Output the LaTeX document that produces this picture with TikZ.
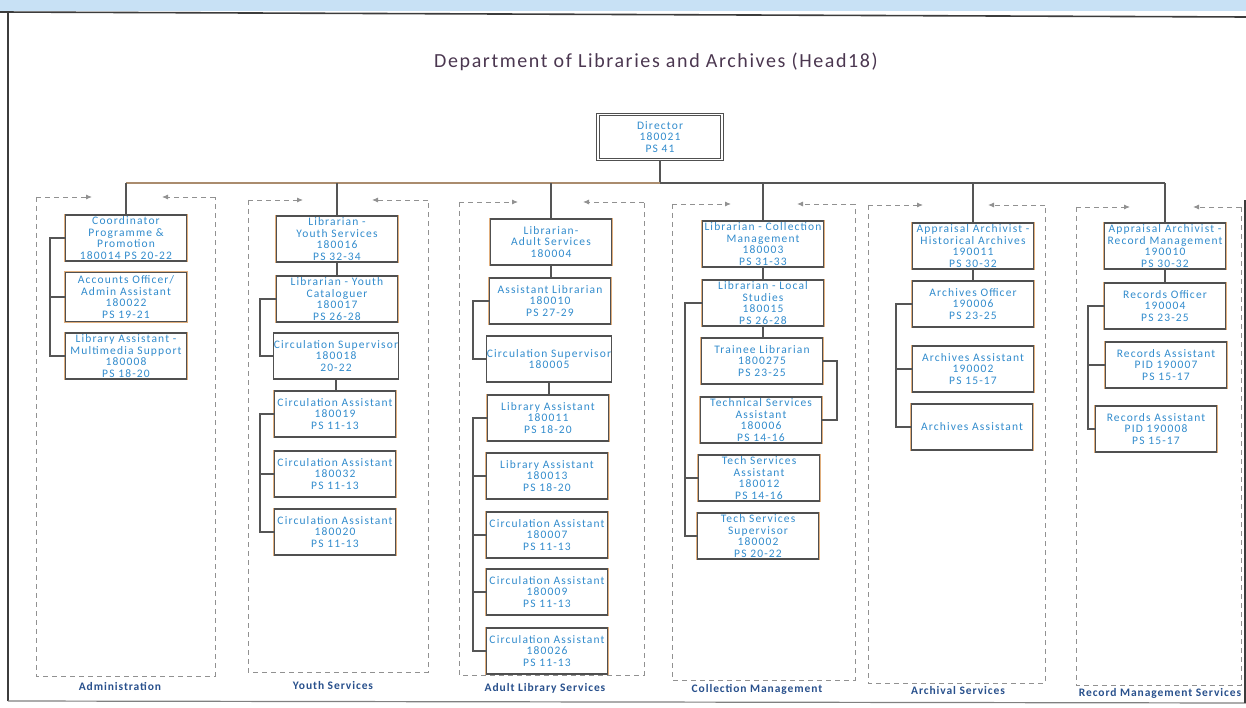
\documentclass[tikz,border=0pt]{standalone}
\usepackage{fontspec}
\setmainfont{Carlito}
\newfontfamily\postFont[LetterSpace=10]{Carlito}
\newfontfamily\titleFont[LetterSpace=8]{Carlito}
\newfontfamily\labelFont[LetterSpace=8]{Carlito}
\usepackage{xcolor}
\definecolor{postBlue}{RGB}{50,140,205}
\definecolor{postEdge}{RGB}{80,80,80}
\definecolor{postTan}{RGB}{225,175,125}
\definecolor{linkGray}{RGB}{85,85,85}
\definecolor{busTan}{RGB}{170,140,110}
\definecolor{deptGray}{RGB}{145,145,145}
\definecolor{titleInk}{RGB}{75,55,80}
\definecolor{labelInk}{RGB}{40,80,140}
\definecolor{bandBlue}{RGB}{200,225,245}
\definecolor{frameInk}{RGB}{60,60,60}
\usepackage{tikz}
\usetikzlibrary{arrows.meta}

\begin{document}
\begin{tikzpicture}[x=1pt, y=-1pt, every node/.style={inner sep=.25ex},
	post/.style={draw=postEdge, line width=1.1pt, preaction={draw=postTan, line width=2.6pt}, fill=white, minimum width=121pt, minimum height=46pt, inner sep=0pt, align=center, text=postBlue, font=\postFont\fontsize{11.5}{11.5}\selectfont},
	link/.style={draw=linkGray, line width=1.4pt},
	dept/.style={draw=deptGray, line width=0.9pt, dash pattern=on 5pt off 4pt},
	deptArrow/.style={dept, -{Latex[length=6pt, width=5pt]}},
	deptLabel/.style={text=labelInk, font=\labelFont\bfseries\fontsize{11.5}{13}\selectfont}]
	\useasboundingbox (0,0) rectangle (1246,708);
	% page frame of the scan
	\fill[bandBlue] (0,0) rectangle (1246,11);
	\draw[frameInk, line width=1.6pt] (0,12) -- (1246,17);
	\draw[frameInk, line width=1.6pt] (8,12) -- (8,701);
	\draw[gray, line width=1.2pt] (8,701) -- (1246,703);
	\draw[frameInk, line width=1.2pt] (1245,200) -- (1245,703);

	\node[text=titleInk, font=\titleFont\fontsize{20}{24}\selectfont] (title) at (656,62) {Department of Libraries and Archives (Head18)};
	\node[post, minimum width=124pt, minimum height=45pt, double=white, double distance=1.2pt] (dir) at (660,137) {Director\\180021\\PS 41};

	% department frames
	\draw[dept] (36,197) -- (36,676) -- (215,676) -- (215,197);
	\draw[deptArrow] (36,197) -- (92,197);
	\draw[deptArrow] (215,197) -- (162,197);
	\draw[dept] (248,200) -- (248,672) -- (428,672) -- (428,200);
	\draw[deptArrow] (248,200) -- (303,200);
	\draw[deptArrow] (428,200) -- (372,200);
	\draw[dept] (459,202) -- (459,675) -- (644,675) -- (644,202);
	\draw[deptArrow] (459,202) -- (518,202);
	\draw[deptArrow] (644,202) -- (583,202);
	\draw[dept] (672,204) -- (672,680) -- (855,680) -- (855,204);
	\draw[deptArrow] (672,204) -- (731,204);
	\draw[deptArrow] (855,204) -- (797,204);
	\draw[dept] (868,205) -- (868,683) -- (1045,683) -- (1045,205);
	\draw[deptArrow] (868,205) -- (923,205);
	\draw[deptArrow] (1045,205) -- (988,205);
	\draw[dept] (1076,207) -- (1076,685) -- (1241,685) -- (1241,207);
	\draw[deptArrow] (1076,207) -- (1130,207);
	\draw[deptArrow] (1241,207) -- (1193,207);

	\node[deptLabel] (admLabel) at (120,686) {Administration};
	\node[deptLabel] (youthLabel) at (333,686) {Youth Services};
	\node[deptLabel] (adultLabel) at (545,688) {Adult Library Services};
	\node[deptLabel] (collLabel) at (757,689) {Collection Management};
	\node[deptLabel] (archLabel) at (958,691) {Archival Services};
	\node[deptLabel] (recLabel) at (1160,693) {Record Management Services};

	% Administration
	\node[post] (A1) at (126,238) {Coordinator\\Programme \&\\Promotion\\180014 PS 20-22};
	\node[post, minimum height=49pt] (A2) at (126,297) {Accounts Officer/\\Admin Assistant\\180022\\PS 19-21};
	\node[post] (A3) at (126,356) {Library Assistant -\\Multimedia Support\\180008\\PS 18-20};
	% Youth Services
	\node[post] (Y1) at (337,239) {Librarian -\\Youth Services\\180016\\PS 32-34};
	\node[post] (Y2) at (337,299) {Librarian - Youth\\Cataloguer\\180017\\PS 26-28};
	\node[post] (Y3) at (336,356) {Circulation Supervisor\\180018\\20-22};
	\node[post] (Y4) at (335,414) {Circulation Assistant\\180019\\PS 11-13};
	\node[post] (Y5) at (335,474) {Circulation Assistant\\180032\\PS 11-13};
	\node[post] (Y6) at (335,532) {Circulation Assistant\\180020\\PS 11-13};
	% Adult Library Services
	\node[post] (D1) at (551,242) {Librarian-\\Adult Services\\180004};
	\node[post] (D2) at (550,301) {Assistant Librarian\\180010\\PS 27-29};
	\node[post] (D3) at (549,359) {Circulation Supervisor\\180005};
	\node[post] (D4) at (548,418) {Library Assistant\\180011\\PS 18-20};
	\node[post] (D5) at (547,476) {Library Assistant\\180013\\PS 18-20};
	\node[post] (D6) at (547,535) {Circulation Assistant\\180007\\PS 11-13};
	\node[post] (D7) at (547,592) {Circulation Assistant\\180009\\PS 11-13};
	\node[post] (D8) at (547,651) {Circulation Assistant\\180026\\PS 11-13};
	% Collection Management
	\node[post] (C1) at (763,244) {Librarian - Collection\\Management\\180003\\PS 31-33};
	\node[post] (C2) at (763,303) {Librarian - Local\\Studies\\180015\\PS 26-28};
	\node[post] (C3) at (762,361) {Trainee Librarian\\1800275\\PS 23-25};
	\node[post] (C4) at (761,420) {Technical Services\\Assistant\\180006\\PS 14-16};
	\node[post] (C5) at (759,478) {Tech Services\\Assistant\\180012\\PS 14-16};
	\node[post] (C6) at (758,536) {Tech Services\\Supervisor\\180002\\PS 20-22};
	% Archival Services
	\node[post] (R1) at (973,246) {Appraisal Archivist -\\Historical Archives\\190011\\PS 30-32};
	\node[post] (R2) at (973,304) {Archives Officer\\190006\\PS 23-25};
	\node[post] (R3) at (973,369) {Archives Assistant\\190002\\PS 15-17};
	\node[post] (R4) at (972,427) {Archives Assistant};
	% Record Management Services
	\node[post] (S1) at (1165,246) {Appraisal Archivist -\\Record Management\\190010\\PS 30-32};
	\node[post] (S2) at (1165,306) {Records Officer\\190004\\PS 23-25};
	\node[post] (S3) at (1166,365) {Records Assistant\\PID 190007\\PS 15-17};
	\node[post] (S4) at (1156,429) {Records Assistant\\PID 190008\\PS 15-17};

	% director to the heads of section
	\coordinate (bus) at (660,183);
	\draw[link] (dir.south) -- (dir.south |- bus);
	\draw[link, draw=busTan, line width=1.1pt] (A1.north |- bus) -- (dir.south |- bus);
	\draw[link] (dir.south |- bus) -- (S1.north |- bus);
	\foreach \head in {A1, Y1, D1, C1, R1, S1}
		\draw[link] (\head.north |- bus) -- (\head.north);

	% straight links
	\draw[link] (Y1.south) -- (Y1.south |- Y2.north);
	\draw[link] (Y3.south) -- (Y3.south |- Y4.north);
	\draw[link] (D1.south) -- (D1.south |- D2.north);
	\draw[link] (D3.south) -- (D3.south |- D4.north);
	\draw[link] (C1.south) -- (C1.south |- C2.north);
	\draw[link] (C2.south) -- (C2.south |- C3.north);
	\draw[link] (R1.south) -- (R1.south |- R2.north);
	\draw[link] (S1.south) -- (S1.south |- S2.north);

	% side brackets
	\coordinate (aSpine) at (50,0);
	\draw[link] (A1.west) -- (aSpine |- A1.west) -- (aSpine |- A3.west) -- (A3.west);
	\draw[link] (aSpine |- A2.west) -- (A2.west);
	\coordinate (ySpine) at (260,0);
	\draw[link] (Y2.west) -- (ySpine |- Y2.west) -- (ySpine |- Y3.west) -- (Y3.west);
	\draw[link] (Y4.west) -- (ySpine |- Y4.west) -- (ySpine |- Y6.west) -- (Y6.west);
	\draw[link] (ySpine |- Y5.west) -- (Y5.west);
	\coordinate (dSpine) at (473,0);
	\draw[link] (D2.west) -- (dSpine |- D2.west) -- (dSpine |- D3.west) -- (D3.west);
	\draw[link] (D4.west) -- (dSpine |- D4.west) -- (dSpine |- D8.west) -- (D8.west);
	\foreach \post in {D5, D6, D7}
		\draw[link] (dSpine |- \post.west) -- (\post.west);
	\coordinate (cSpine) at (685,0);
	\coordinate (cSpineR) at (837,0);
	\draw[link] (C2.west) -- (cSpine |- C2.west) -- (cSpine |- C6.west) -- (C6.west);
	\draw[link] (cSpine |- C5.west) -- (C5.west);
	\draw[link] (C3.east) -- (cSpineR |- C3.east) -- (cSpineR |- C4.east) -- (C4.east);
	\coordinate (rSpine) at (896,0);
	\draw[link] (R2.west) -- (rSpine |- R2.west) -- (rSpine |- R4.west) -- (R4.west);
	\draw[link] (rSpine |- R3.west) -- (R3.west);
	\coordinate (sSpine) at (1088,0);
	\draw[link] (S2.west) -- (sSpine |- S2.west) -- (sSpine |- S4.west) -- (S4.west);
	\draw[link] (sSpine |- S3.west) -- (S3.west);

\end{tikzpicture}
\end{document}
